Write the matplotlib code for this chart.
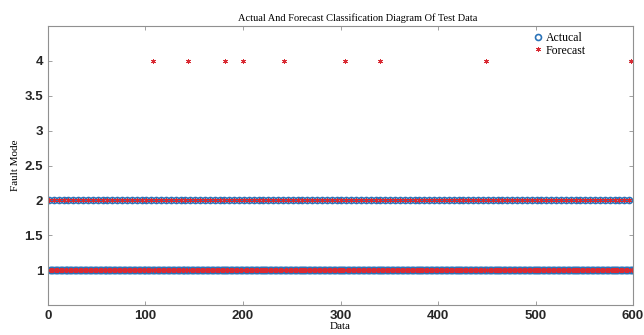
import numpy as np
import matplotlib.pyplot as plt

# sample numbers (1-based) whose true class is 2, everything else is class 1
class2_samples = [
    1, 6, 11, 16, 21, 26, 31, 36, 41, 46, 51, 56, 61, 66, 71, 76, 81, 86, 91, 96,
    101, 106, 111, 116, 121, 126, 131, 136, 141, 146, 151, 156, 161, 166, 171, 176, 181, 186, 191, 196,
    201, 206, 211, 216, 221, 226, 231, 236, 241, 246, 251, 256, 261, 266, 271, 276, 281, 286, 291, 296,
    301, 306, 311, 316, 321, 326, 331, 336, 341, 346, 351, 356, 361, 366, 371, 376, 381, 386, 391, 396,
    401, 406, 411, 416, 421, 426, 431, 436, 441, 446, 451, 456, 461, 466, 471, 476, 481, 486, 491, 496,
    501, 506, 511, 516, 521, 526, 531, 536, 541, 546, 551, 556, 561, 566, 571, 576, 581, 586, 591, 596,
]
# misclassified samples, predicted as class 4
wrong_samples = [108, 144, 182, 200, 242, 305, 340, 449, 598]
n_samples = 600

samples = np.arange(1, n_samples + 1)
actual = np.ones(n_samples)
actual[np.array(class2_samples) - 1] = 2
forecast = actual.copy()
forecast[np.array(wrong_samples) - 1] = 4

serif = ['Liberation Serif', 'DejaVu Serif']
plt.rcParams['font.family'] = ['Liberation Sans', 'DejaVu Sans']

fig = plt.figure(figsize=(6.44, 3.35), dpi=100)
ax = fig.add_axes([0.0745, 0.0896, 0.9085, 0.8324])

ax.plot(samples, actual, 'o', mfc='none', mec='#2b73b8', ms=4.3, mew=1.2, label='Actucal')
ax.plot(samples, forecast, ls='none', marker=(6, 2, 0), color='#d92a33', ms=3.6, mew=0.6,
        label='Forecast')

ax.set_xlim(0, 600)
ax.set_ylim(0.5, 4.5)
ax.set_xticks([0, 100, 200, 300, 400, 500, 600])
ax.set_yticks([1, 1.5, 2, 2.5, 3, 3.5, 4])
ax.set_yticklabels(['1', '1.5', '2', '2.5', '3', '3.5', '4'])
ax.tick_params(direction='in', top=True, right=True, length=3, width=0.6,
               color='#909090', labelsize=9.5, labelcolor='#262626')
for lab in ax.get_xticklabels() + ax.get_yticklabels():
    lab.set_fontweight('bold')
for s in ax.spines.values():
    s.set_color('#909090')
    s.set_linewidth(0.8)

ax.set_title('Actual And Forecast Classification Diagram Of Test Data',
             family=serif, fontsize=7.5, pad=4, x=0.53)
ax.set_xlabel('Data', family=serif, fontsize=8, labelpad=0)
ax.set_ylabel('Fault Mode', family=serif, fontsize=8, labelpad=3)

leg = ax.legend(loc='upper right', bbox_to_anchor=(0.93, 1.0), frameon=False,
                prop={'family': serif, 'size': 8.5}, handletextpad=0.2,
                borderaxespad=0.1, labelspacing=0.05, handlelength=1.0)

fig.savefig('out.png', dpi=100)
